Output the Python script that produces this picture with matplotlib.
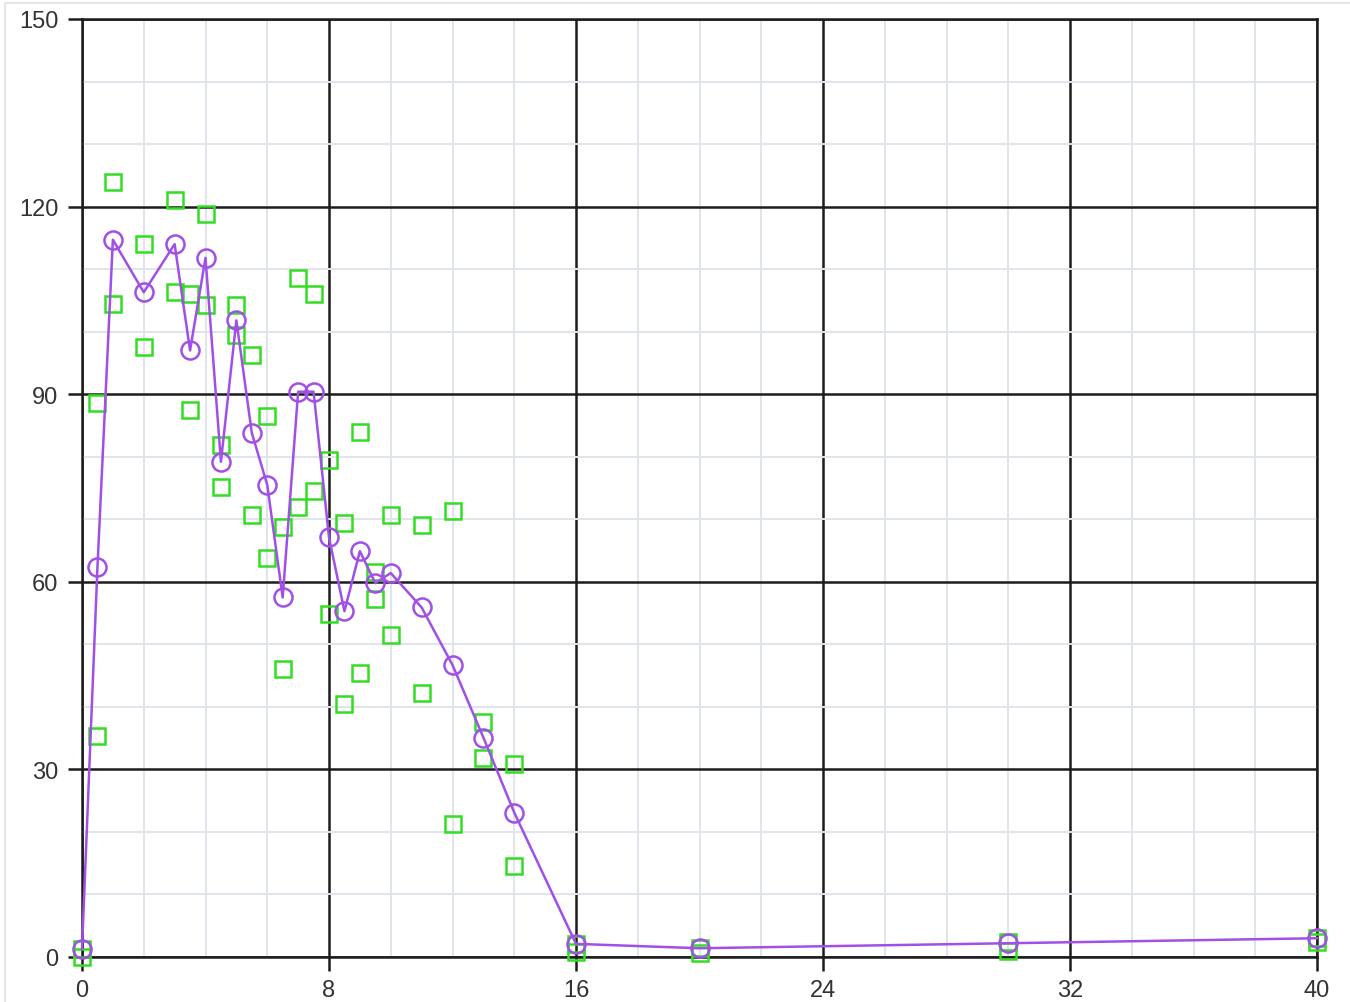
import numpy as np
import matplotlib
matplotlib.use("Agg")
import matplotlib.pyplot as plt
from matplotlib.ticker import MultipleLocator
from matplotlib.lines import Line2D

# data
x_vals = [0, 0.5, 1, 2, 3, 3.5, 4, 4.5, 5, 5.5, 6, 6.5, 7, 7.5, 8, 8.5, 9, 9.5,
          10, 11, 12, 13, 14, 16, 20, 30, 40]
mean_vals = [1.3, 62.3, 114.7, 106.3, 114.0, 97.0, 111.8, 79.2, 101.8, 83.8,
             75.5, 57.5, 90.4, 90.4, 67.1, 55.3, 64.9, 59.8, 61.4, 55.9, 46.7,
             35.1, 23.1, 2.1, 1.4, 2.2, 3.0]
upper_vals = [1.3, 88.6, 124.0, 114.0, 121.1, 106.0, 118.8, 81.9, 104.2, 96.3,
              86.5, 68.7, 108.6, 106.0, 79.4, 69.4, 83.9, 61.6, 70.7, 69.1,
              71.4, 37.6, 30.9, 2.1, 1.4, 2.4, 3.0]
lower_vals = [0.0, 35.4, 104.4, 97.6, 106.3, 87.4, 104.2, 75.1, 99.4, 70.7,
              63.8, 46.1, 72.0, 74.5, 54.9, 40.5, 45.4, 57.3, 51.5, 42.2, 21.3,
              31.9, 14.6, 0.75, 0.6, 1.0, 2.4]

plt.rcParams['font.family'] = ['Liberation Sans', 'DejaVu Sans']

fig = plt.figure(figsize=(13.5, 10.03), dpi=100)
ax = fig.add_axes([82/1350, 1-958/1003, (1317-82)/1350, (958-20)/1003])

purple = '#a050e6'
green = '#33dd22'

ax.plot(x_vals, upper_vals, linestyle='none', marker='s', ms=11,
        mfc='none', mec=green, mew=1.8, zorder=3, clip_on=False)
ax.plot(x_vals, lower_vals, linestyle='none', marker='s', ms=11,
        mfc='none', mec=green, mew=1.8, zorder=3, clip_on=False)
ax.plot(x_vals, mean_vals, color=purple, lw=1.8, marker='o', ms=13,
        mfc='none', mec=purple, mew=1.8, zorder=4, clip_on=False)

ax.set_xlim(0, 40)
ax.set_ylim(0, 150)
ax.xaxis.set_major_locator(MultipleLocator(8))
ax.xaxis.set_minor_locator(MultipleLocator(2))
ax.yaxis.set_major_locator(MultipleLocator(30))
ax.yaxis.set_minor_locator(MultipleLocator(10))

ax.grid(which='minor', color='#dfe5ea', lw=1.4, zorder=0)
ax.grid(which='major', color='#1c1c1c', lw=1.8, zorder=1)
ax.set_axisbelow(True)

for s in ax.spines.values():
    s.set_color('#1c1c1c')
    s.set_linewidth(1.8)

ax.tick_params(which='major', length=10, width=1.8, color='#1c1c1c',
               labelsize=17, labelcolor='#333333', pad=6)
ax.tick_params(axis='y', which='major', pad=7)
ax.tick_params(which='minor', length=0)

# faint outer frame of the original widget
fig.add_artist(Line2D([5/1350, 1], [1-4/1003, 1-4/1003], color='#e3e7ea', lw=1.5))
fig.add_artist(Line2D([5/1350, 5/1350], [0, 1-4/1003], color='#e3e7ea', lw=1.5))

fig.savefig('out.png', dpi=100)
